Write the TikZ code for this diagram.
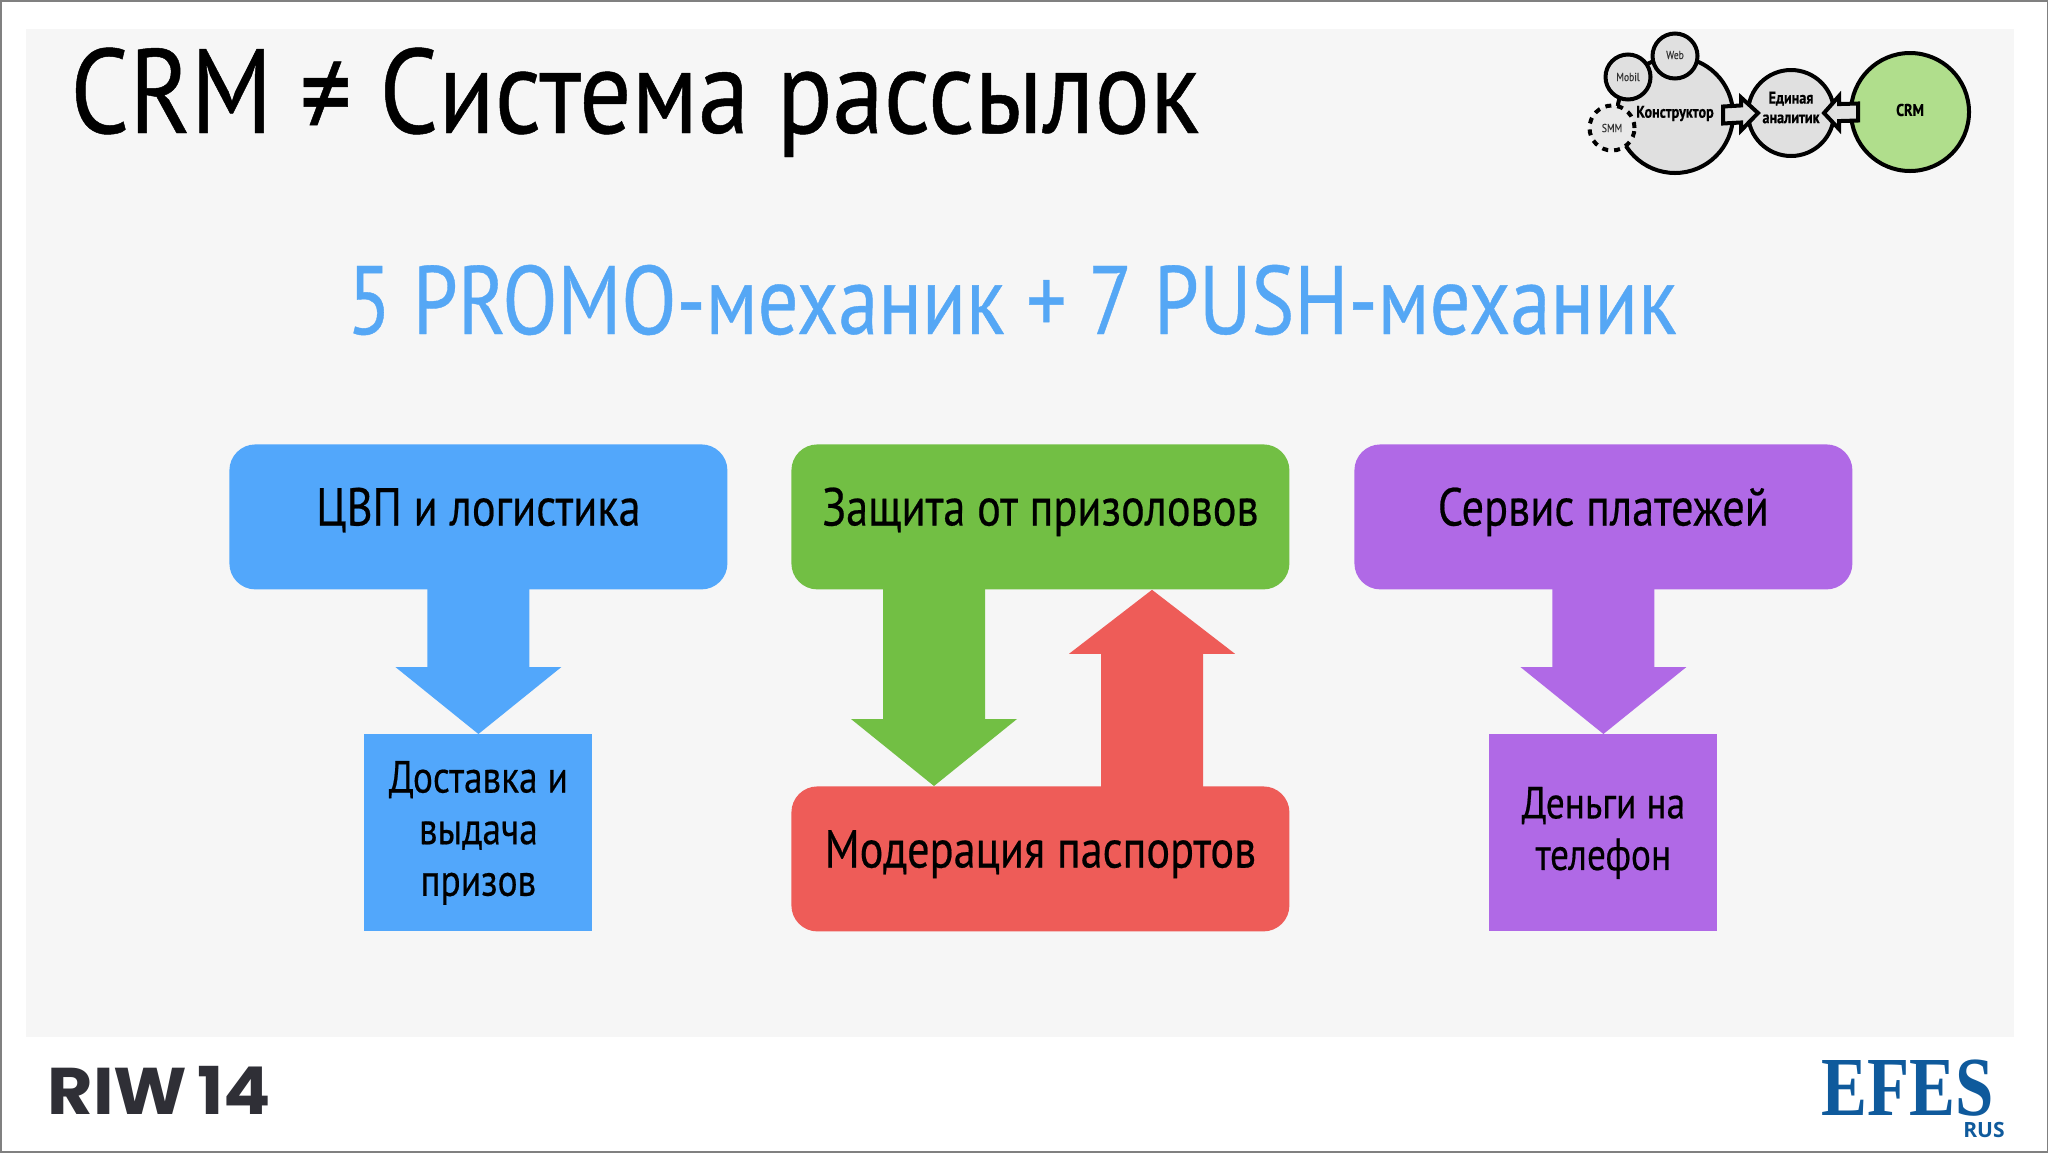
\documentclass[tikz,border=0pt]{standalone}
\usepackage{fontspec}
\usetikzlibrary{calc}
\setmainfont[FakeStretch=0.83,FakeBold=0.4]{PT Sans}
\newfontfamily\titlefont[FakeStretch=0.86,FakeBold=0.4]{PT Sans}
\newfontfamily\riwfont[FakeStretch=1.06]{Poppins}
\newfontfamily\efesfont[FakeStretch=0.82]{Liberation Serif}
\newfontfamily\rusfont{Open Sans}
\definecolor{cblue}{HTML}{52A7FB}
\definecolor{cgreen}{HTML}{72BF44}
\definecolor{cred}{HTML}{EE5C58}
\definecolor{cpurple}{HTML}{B069E6}
\definecolor{csub}{HTML}{55A7F5}
\definecolor{cpanel}{HTML}{F6F6F6}
\definecolor{cgrey}{HTML}{E0E0E0}
\definecolor{cmini}{HTML}{B0DE8C}
\definecolor{cefes}{HTML}{0F5A9C}
\definecolor{criw}{HTML}{2F2F36}
\tikzset{
  x=0.5pt,y=-0.5pt,
  rbox/.style={rounded corners=13pt,minimum width=249pt,minimum height=72.5pt,inner sep=0pt,text height=19pt,text depth=10.4pt,font=\fontsize{26.7}{32}\selectfont,text=black,anchor=north west},
  sbox/.style={minimum width=114pt,minimum height=98.5pt,inner sep=0pt,align=center,font=\fontsize{22.5}{25.8}\selectfont,text=black,anchor=north west},
  mini/.style={circle,draw=black,line width=2pt,inner sep=0pt},
  minilabel/.style={inner sep=0pt,align=center,font=\fontsize{8.5}{9.8}\selectfont\bfseries,text=black},
  minismall/.style={inner sep=0pt,font=\fontsize{5.8}{6}\selectfont,text=black!80},
}
% block arrow: [head length], colour, start, tip (vertical); the tail runs 1pt into its box
\newcommand\blockarrow[4][33.5pt]{%
  \fill[#2] ($($(#3)!-1pt!(#4)$)+(-51,0)$) -- ($($(#4)!#1!(#3)$)+(-51,0)$) -- ($($(#4)!#1!(#3)$)+(-83,0)$) -- (#4) -- ($($(#4)!#1!(#3)$)+(83,0)$) -- ($($(#4)!#1!(#3)$)+(51,0)$) -- ($($(#3)!-1pt!(#4)$)+(51,0)$) -- cycle;}
% small outlined block arrow (horizontal)
\newcommand\miniarrow[3]{%
  \draw[draw=black,fill=cgrey,line width=2pt,miter limit=6] ($(#1)+(0,-8.5)$) -- ($($(#2)!#3!(#1)$)+(0,-8.5)$) -- ($($(#2)!#3!(#1)$)+(0,-16.5)$) -- (#2) -- ($($(#2)!#3!(#1)$)+(0,16.5)$) -- ($($(#2)!#3!(#1)$)+(0,8.5)$) -- ($(#1)+(0,8.5)$) -- cycle;}
\begin{document}
\begin{tikzpicture}
\useasboundingbox (0,0) rectangle (2048,1152);
\fill[white] (0,0) rectangle (2048,1152);
\fill[cpanel] (26,29) rectangle (2014,1037);
\draw[gray,line width=1pt] (0.5,0.5) rectangle (2047.5,1151.5);

\node[anchor=base west,inner sep=0pt,font=\titlefont\fontsize{60}{66}\selectfont] (title) at (70,133) {CRM ≠ Система рассылок};
\node[anchor=base,inner sep=0pt,text=csub,font=\fontsize{48.6}{54}\selectfont] (sub) at (1012,334) {5 PROMO-механик + 7 PUSH-механик};

\node[rbox,fill=cblue] (b1) at (229,444) {ЦВП и логистика};
\node[rbox,fill=cgreen] (b2) at (791,444) {Защита от призоловов};
\node[rbox,fill=cpurple] (b3) at (1354,444) {Сервис платежей};
\node[sbox,fill=cblue] (d1) at (364,734) {Доставка и\\выдача\\призов};
\node[rbox,fill=cred] (d2) at (791,786) {Модерация паспортов};
\node[sbox,fill=cpurple] (d3) at (1489,734) {Деньги на\\телефон};

\coordinate (gx) at (934,0);
\coordinate (rx) at (1152,0);
\blockarrow{cblue}{b1.south}{d1.north}
\blockarrow{cgreen}{b2.south -| gx}{d2.north -| gx}
\blockarrow[32pt]{cred}{d2.north -| rx}{b2.south -| rx}
\blockarrow{cpurple}{b3.south}{d3.north}

% mini diagram
\node[mini,fill=cgrey,minimum size=58pt] (konst) at (1675,115) {};
\node[mini,fill=cgrey,minimum size=43pt] (anal) at (1791,113) {};
\node[mini,fill=cmini,minimum size=59pt] (crm) at (1910,112) {};
\node[mini,fill=cgrey,minimum size=22.5pt] (web) at (1675,56) {};
\node[mini,fill=cgrey,minimum size=22.5pt] (mobil) at (1628,77) {};
\node[mini,dashed,fill=cgrey!60!cpanel,minimum size=22.5pt] (smm) at (1612,128) {};
\miniarrow{$(konst.east)+(-12,0)$}{$(anal.west)+(12,0)$}{8.5pt}
\miniarrow{$(crm.west)+(9,0)$}{$(anal.east)+(-12,0)$}{7.5pt}
\node[minilabel] at ($(konst)+(0,-1.5)$) {Конструктор};
\node[minilabel] at ($(anal)+(0,-5.5)$) {Единая\\аналитик};
\node[minilabel] at ($(crm)+(0,-2)$) {CRM};
\node[minismall] at ($(web)+(0,-1)$) {Web};
\node[minismall] at (mobil) {Mobil};
\node[minismall] at (smm) {SMM};

% logos
\node[anchor=base west,inner sep=0pt,text=criw,font=\riwfont\fontsize{33}{36}\selectfont\bfseries] (riw) at (47,1114) {RIW\kern5pt 14};
\node[anchor=base west,inner sep=0pt,text depth=0pt,text=cefes,font=\efesfont\fontsize{42}{46}\selectfont\bfseries] (efes) at (1821,1115) {EFES};
\node[anchor=base east,inner sep=0pt,text height=7.5pt,text=cefes,font=\rusfont\fontsize{10.5}{12}\selectfont\bfseries] (rus) at (2005,1137) {RUS};
\end{tikzpicture}
\end{document}
